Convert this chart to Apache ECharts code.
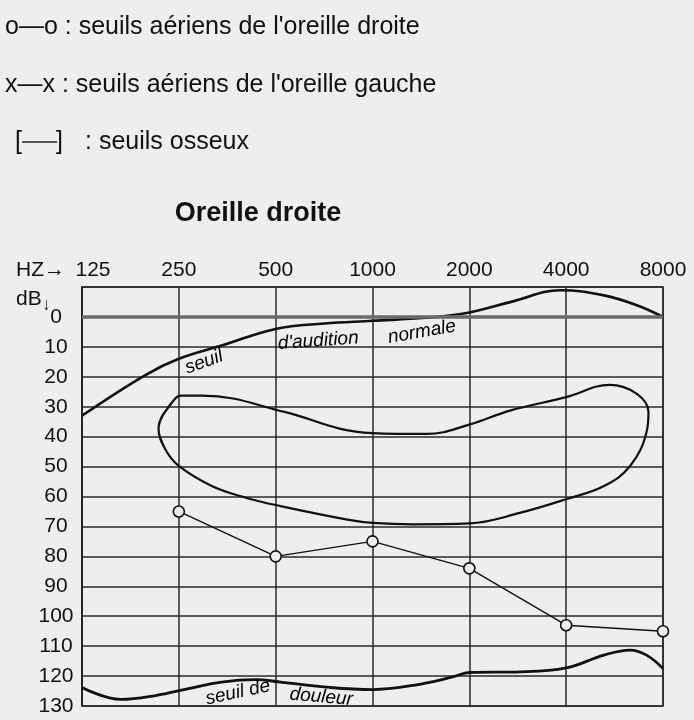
<!DOCTYPE html>
<html lang="fr">
<head>
  <meta charset="utf-8">
  <style>
    html, body { margin: 0; background: #eeeeee; }
    #container { width: 694px; height: 720px; }
  </style>
</head>
<body>
  <div id="container"></div>
  <script src="https://cdn.jsdelivr.net/npm/echarts@6/dist/echarts.min.js"></script>
  <script>
    var FONT = '"Liberation Sans", Arial, Helvetica, sans-serif';

    // frequency labels, one per octave (x = octave index from 125 Hz)
    const freqLabels = ['125', '250', '500', '1000', '2000', '4000', '8000'];

    // right ear air thresholds (o---o)
    const droiteFreq = [250, 500, 1000, 2000, 4000, 8000];
    const droiteDb = [65, 80, 75, 84, 103, 105];

    // normal hearing threshold: [octave, dB]
    const seuilNormal = [
      [0, 33], [0.65, 19.5], [1, 14], [1.45, 9.5], [2, 4], [2.5, 2.2], [3, 1.3],
      [3.55, 0.3], [4, -1.5], [4.45, -5.2], [4.94, -8.9], [5.39, -7.2], [5.73, -3.9], [6, 0]
    ];

    // pain threshold: [octave, dB]
    const seuilDouleur = [
      [0, 123.8], [0.4, 127.8], [0.76, 126.5], [1.1, 124.2], [1.44, 122], [1.79, 121.2],
      [2.05, 122], [2.56, 123.8], [3, 124.5], [3.42, 123.1], [3.83, 120.3], [4, 118.8],
      [4.53, 118.6], [5, 117.3], [5.39, 113], [5.66, 111.3], [5.83, 113], [6, 117.5]
    ];

    // speech area (closed loop): [octave, dB]
    const zoneParole = [
      [0.86, 44.2], [0.79, 37.4], [0.946, 27.9], [1.03, 26.3], [1.24, 26.3], [2.1, 31.8],
      [2.67, 37.4], [3, 38.8], [3.56, 39.1], [4, 36], [4.42, 31.3], [5, 26.8], [5.45, 22.7],
      [5.73, 25.7], [5.85, 31.8], [5.83, 38.5], [5.66, 49.8], [5.39, 56.5], [5, 60.9],
      [4.53, 65.4], [4, 69], [3.42, 69.3], [3, 68.8], [2.74, 67.7], [2.05, 63.2], [1.69, 60.4],
      [1.34, 56.5], [1, 49.8], [0.86, 44.2], [0.79, 37.4], [0.946, 27.9]
    ];

    // words written along the curves: [octave, dB, text, rotation]
    const annotations = [
      [1.26, 15.1, 'seuil', 20],
      [2.44, 8.0, "d'audition", 4],
      [3.51, 5.0, 'normale', 10],
      [1.61, 125.5, 'seuil de', 12],
      [2.47, 127.0, 'douleur', -5]
    ];

    const legendLines = [
      'o\u2014o : seuils aériens de l\'oreille droite',
      'x\u2014x : seuils aériens de l\'oreille gauche'
    ];

    var chart = echarts.init(document.getElementById('container'), null, { renderer: 'canvas' });

    var curveStyle = function (w) {
      return { color: '#111', width: w };
    };

    var option = {
      backgroundColor: '#eeeeee',
      animation: false,
      textStyle: { fontFamily: FONT },
      grid: {
        left: 82, right: 31, top: 287, bottom: 14,
        show: true, borderColor: '#222', borderWidth: 1.5
      },
      xAxis: {
        type: 'value', position: 'top', min: 0, max: 6, interval: 1,
        axisLine: { show: true, lineStyle: { color: '#222', width: 1.5 } },
        axisTick: { show: false },
        axisLabel: {
          margin: 6, fontSize: 21, color: '#111', fontFamily: FONT,
          formatter: function (v) {
            return v === 0 ? '{first|' + freqLabels[0] + '}' : freqLabels[v];
          },
          rich: {
            first: { padding: [0, 0, 0, 22], fontSize: 21, color: '#111', fontFamily: FONT }
          }
        },
        splitLine: { show: true, lineStyle: { color: '#2a2a2a', width: 1.5 } }
      },
      yAxis: {
        type: 'value', inverse: true, min: -10, max: 130, interval: 10,
        axisLine: { show: true, lineStyle: { color: '#222', width: 1.5 } },
        axisTick: { show: false },
        axisLabel: {
          margin: 26, align: 'center', fontSize: 21, color: '#111', fontFamily: FONT,
          formatter: function (v) { return v < 0 ? '' : String(v); }
        },
        splitLine: { show: true, lineStyle: { color: '#2a2a2a', width: 1.5 } }
      },
      series: [
        {
          name: 'seuil normal', type: 'line', smooth: 0.4, symbol: 'none',
          data: seuilNormal, lineStyle: curveStyle(2.6), z: 3,
          markLine: {
            silent: true, symbol: 'none', label: { show: false },
            lineStyle: { color: '#6a6a6a', width: 3.5, type: 'solid' },
            data: [{ yAxis: 0 }]
          }
        },
        {
          name: 'seuil de douleur', type: 'line', smooth: 0.4, symbol: 'none',
          data: seuilDouleur, lineStyle: curveStyle(2.8), z: 3
        },
        {
          name: 'zone', type: 'line', smooth: 0.4, symbol: 'none',
          data: zoneParole, lineStyle: curveStyle(2.2), z: 3
        },
        {
          name: 'oreille droite', type: 'line', symbol: 'circle', symbolSize: 11,
          data: droiteFreq.map(function (f, i) { return [Math.log2(f / 125), droiteDb[i]]; }),
          lineStyle: { color: '#111', width: 1.4 },
          itemStyle: { color: '#eeeeee', borderColor: '#111', borderWidth: 1.6 },
          z: 4
        },
        {
          name: 'annotations', type: 'scatter', symbolSize: 0, silent: true, z: 5,
          itemStyle: { color: '#000', opacity: 1 },
          data: annotations.map(function (a) {
            return {
              value: [a[0], a[1]],
              label: {
                show: true, position: 'inside', formatter: a[2], rotate: a[3],
                fontSize: 19, fontStyle: 'italic', color: '#000', opacity: 1,
                textBorderWidth: 0, fontFamily: FONT
              }
            };
          })
        }
      ],
      graphic: [
        { type: 'text', x: 5, y: 27, style: { text: legendLines[0], font: '25px ' + FONT, fill: '#111', verticalAlign: 'middle' } },
        { type: 'text', x: 5, y: 85, style: { text: legendLines[1], font: '25px ' + FONT, fill: '#111', verticalAlign: 'middle' } },
        { type: 'text', x: 15, y: 142, style: { text: '[', font: '25px ' + FONT, fill: '#111', verticalAlign: 'middle' } },
        { type: 'line', shape: { x1: 22, y1: 142, x2: 57, y2: 142 }, style: { stroke: '#222', lineWidth: 1.5 } },
        { type: 'text', x: 56, y: 142, style: { text: ']', font: '25px ' + FONT, fill: '#111', verticalAlign: 'middle' } },
        { type: 'text', x: 85, y: 142, style: { text: ': seuils osseux', font: '25px ' + FONT, fill: '#111', verticalAlign: 'middle' } },
        { type: 'text', x: 258, y: 214, style: { text: 'Oreille droite', font: 'bold 27px ' + FONT, fill: '#111', align: 'center', verticalAlign: 'middle' } },
        { type: 'text', x: 16, y: 270, style: { text: 'HZ\u2192', font: '21px ' + FONT, fill: '#111', verticalAlign: 'middle' } },
        { type: 'text', x: 16, y: 299, style: { text: 'dB', font: '21px ' + FONT, fill: '#111', verticalAlign: 'middle' } },
        { type: 'text', x: 42, y: 305, style: { text: '\u2193', font: '17px ' + FONT, fill: '#111', verticalAlign: 'middle' } }
      ]
    };

    chart.setOption(option);
    window.addEventListener('resize', chart.resize);
  </script>
</body>
</html>
